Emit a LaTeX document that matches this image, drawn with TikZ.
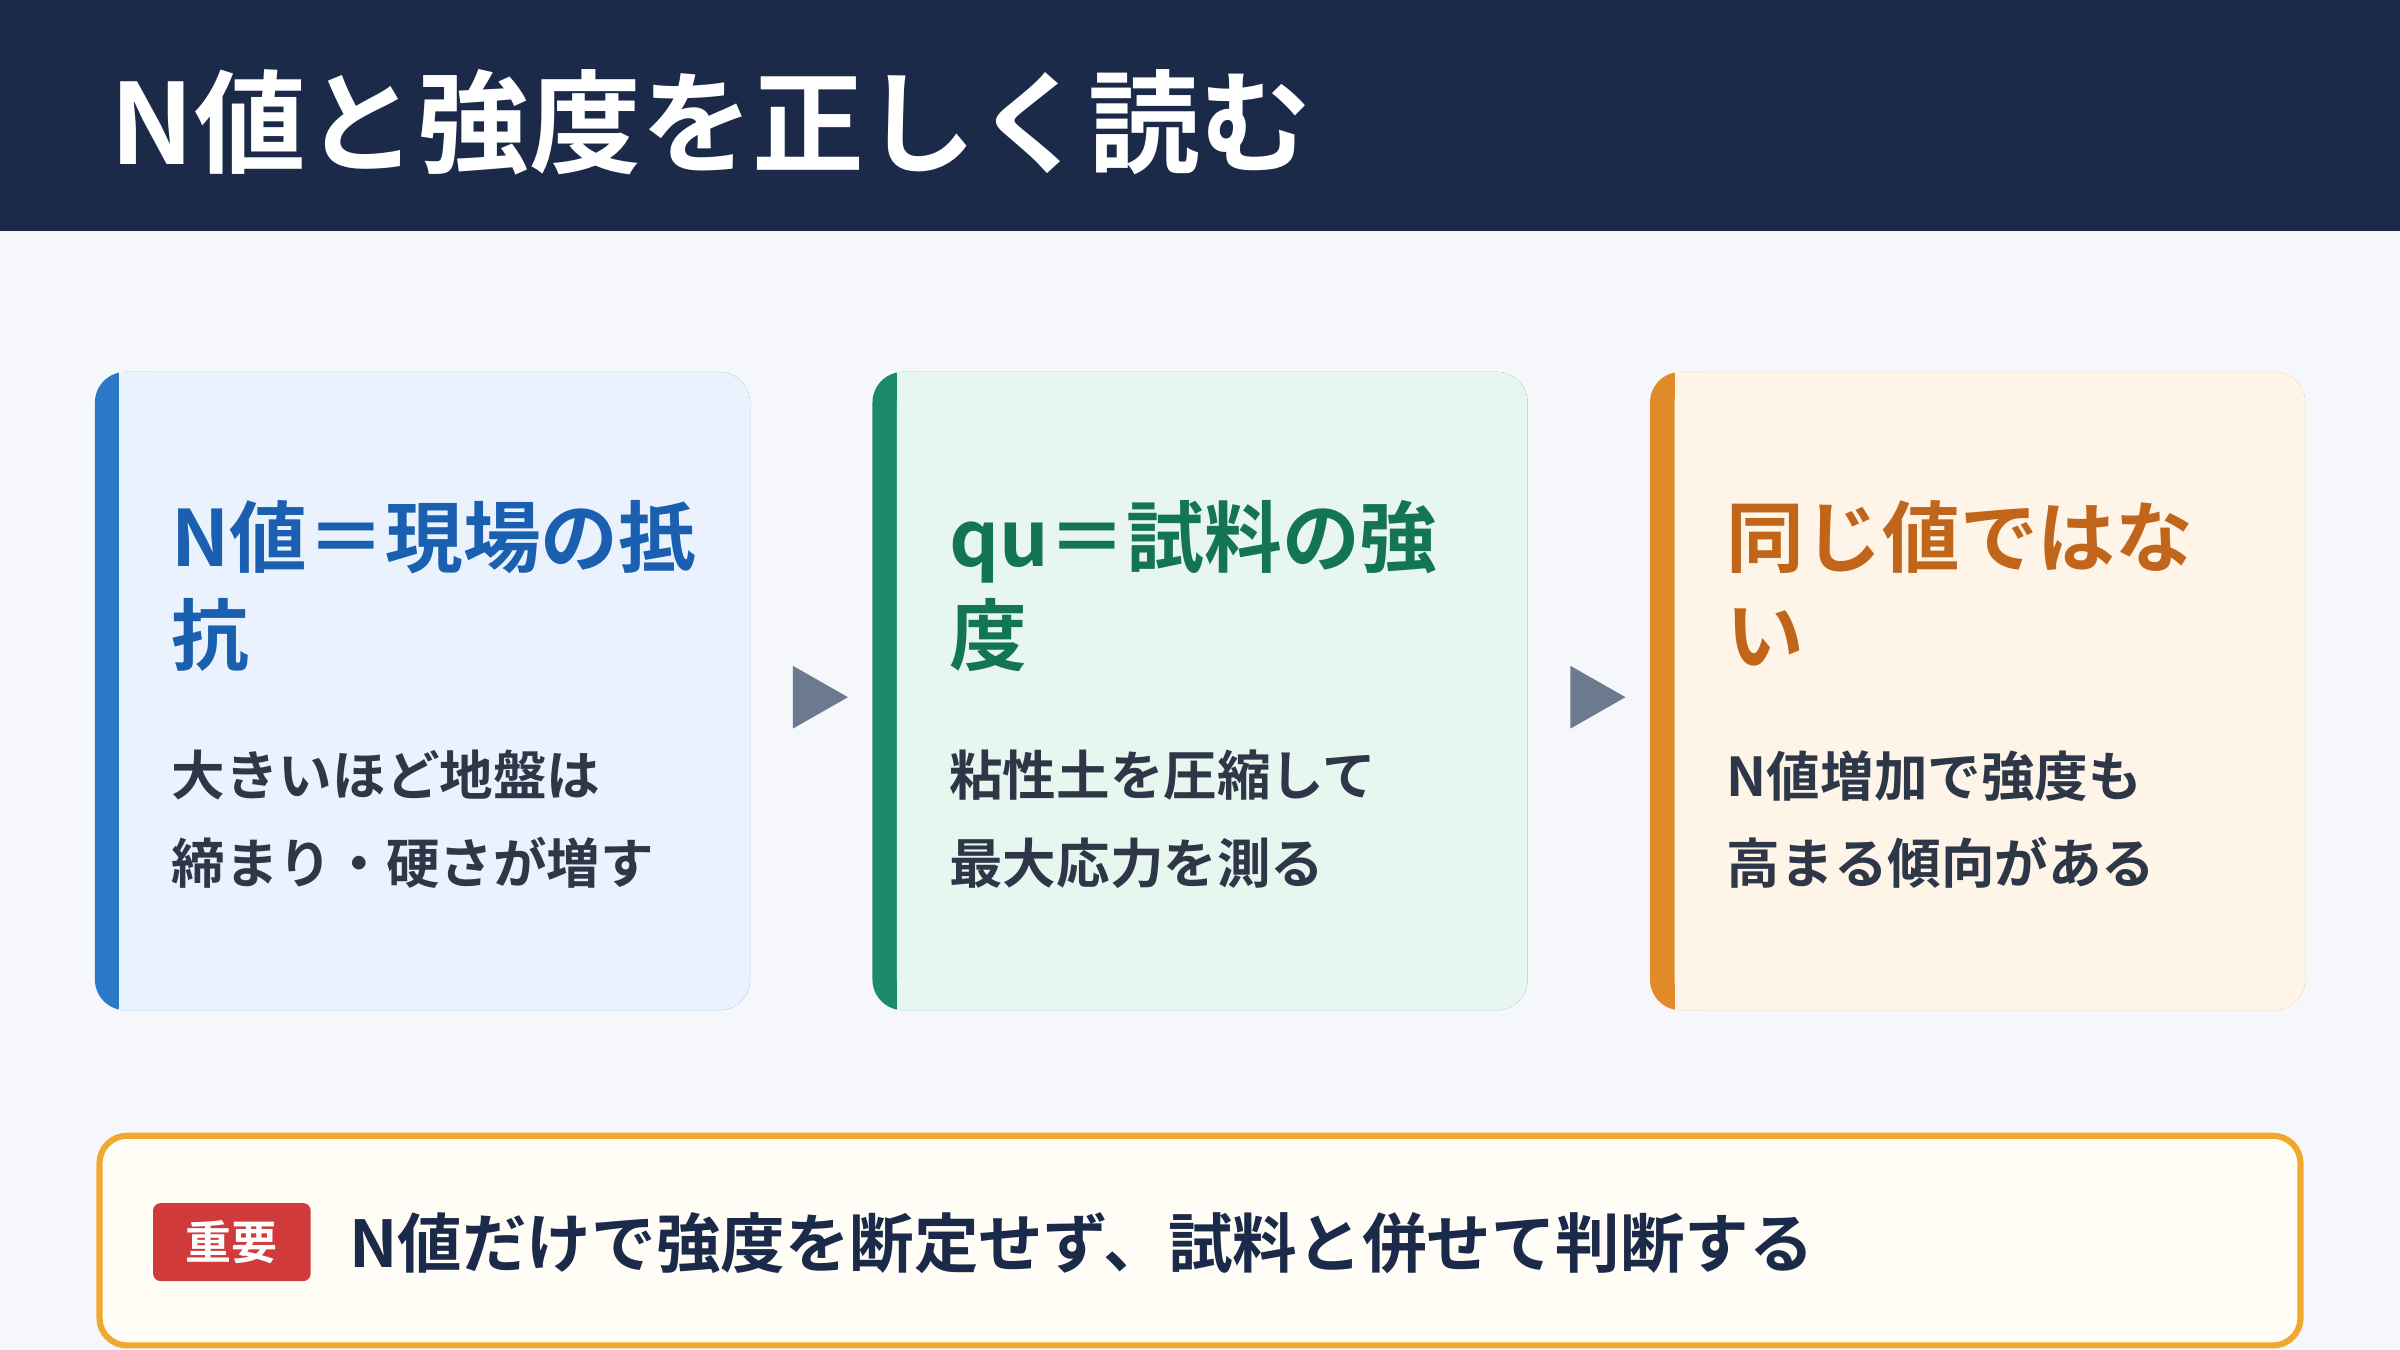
\documentclass[tikz,border=0pt]{standalone}
\usepackage{fontspec}
\setmainfont{Noto Sans CJK JP}[BoldFont={* Bold}]
\begin{document}
\definecolor{navy}{HTML}{1C2A4A}
\definecolor{bg}{HTML}{F5F7FB}
\definecolor{txt}{HTML}{2D3748}
\definecolor{arr}{HTML}{6B7A8F}
\definecolor{obor}{HTML}{F0A830}
\definecolor{ofill}{HTML}{FFFDF6}
\definecolor{red1}{HTML}{D03A3A}
\begin{tikzpicture}[x=1pt,y=-1pt,
 title/.style={anchor=north west,align=left,font=\fontsize{50.8}{64}\selectfont\bfseries,inner sep=0pt},
 body/.style={anchor=north west,align=left,font=\fontsize{35}{57}\selectfont\bfseries,text=txt,inner sep=0pt},
 tri/.style={fill=arr}]
\useasboundingbox (0,0) rectangle (1568,882);
\fill[bg] (0,0) rectangle (1568,882);
\fill[navy] (0,0) rectangle (1568,151);
\node[anchor=west,text=white,font=\fontsize{73}{78}\selectfont\bfseries,inner sep=0pt] (t) at (72,80) {N値と強度を正しく読む};
\foreach \x/\fc/\bc/\n in {62/EAF2FE/2B78C8/a,570/E8F6F0/1A8A6A/b,1078/FEF4E8/E08A2A/c}{
  \definecolor{fc}{HTML}{\fc}\definecolor{bc}{HTML}{\bc}
  \fill[bc,rounded corners=20] (\x,243) rectangle (\x+428,660);
  \fill[fc,rounded corners=20] (\x+16,243) rectangle (\x+428,660);
  \fill[fc] (\x+16,243) rectangle (\x+40,660);
  \coordinate (\n) at (\x,243);
}
\definecolor{t1}{HTML}{1A5FB0}\definecolor{t2}{HTML}{137556}\definecolor{t3}{HTML}{C0651A}
\node[title,text=t1] (h1) at (112,327) {N値＝現場の抵\\抗};
\node[title,text=t2] (h2) at (620,327) {qu＝試料の強\\度};
\node[title,text=t3] (h3) at (1128,327) {同じ値ではな\\い};
\node[body] (b1) at (112,490) {大きいほど地盤は\\締まり・硬さが増す};
\node[body] (b2) at (620,490) {粘性土を圧縮して\\最大応力を測る};
\node[body] (b3) at (1128,490) {N値増加で強度も\\高まる傾向がある};
\fill[tri] (518,435) -- (554,455.5) -- (518,476) -- cycle;
\fill[tri] (1026,435) -- (1062,455.5) -- (1026,476) -- cycle;
\draw[draw=obor,line width=4,fill=ofill,rounded corners=18] (65,742) rectangle (1503,879);
\fill[red1,rounded corners=5] (100,786) rectangle (203,837);
\node[text=white,font=\fontsize{30}{32}\selectfont\bfseries] (k) at (151.5,811.5) {重要};
\node[anchor=west,text=navy,font=\fontsize{42.2}{46}\selectfont\bfseries,inner sep=0pt] (m) at (228,812) {N値だけで強度を断定せず、試料と併せて判断する};
\end{tikzpicture}
\end{document}
